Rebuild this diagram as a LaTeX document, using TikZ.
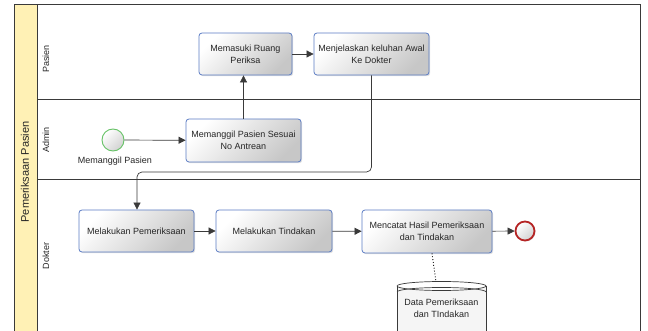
\documentclass[tikz,border=0pt]{standalone}
\usepackage{fontspec}
\setmainfont{Liberation Sans}
\usetikzlibrary{arrows.meta,shadows,calc}

\definecolor{taskblue}{HTML}{5B7CC4}
\definecolor{poolyellow}{HTML}{FFF1B5}
\definecolor{txtgray}{HTML}{262626}
\definecolor{linegray}{HTML}{3A3A3A}
\definecolor{startgreen}{HTML}{66C266}
\definecolor{endred}{HTML}{B52424}

\tikzset{
  x=1pt, y=-1pt,
  every node/.style={font=\fontsize{9}{12}\selectfont, text=txtgray},
  task/.style={draw=taskblue, line width=0.8pt, rounded corners=3pt,
    top color=white, bottom color=black!22, shading angle=45,
    drop shadow={shadow xshift=1.2pt, shadow yshift=-1.2pt, opacity=0.25},
    align=center, inner sep=2pt},
  flow/.style={draw=linegray, line width=0.7pt,
    -{Triangle[length=7pt,width=7pt]}},
  lanelabel/.style={rotate=90, anchor=center},
  startev/.style={circle, draw=startgreen, line width=0.9pt,
    top color=white, bottom color=black!18, shading angle=45,
    minimum size=22pt, inner sep=0pt},
  endev/.style={circle, draw=endred, line width=1.8pt,
    top color=white, bottom color=black!18, shading angle=45,
    drop shadow={shadow xshift=1pt, shadow yshift=-1pt, opacity=0.25},
    minimum size=19pt, inner sep=0pt},
  storeline/.style={draw=linegray, line width=0.7pt},
}

\begin{document}
\begin{tikzpicture}
\useasboundingbox (0,0) rectangle (648,331);
\clip (0,0) rectangle (648,331);

% pool and lanes
\fill[poolyellow] (14,5) rectangle (37,340);
\draw[linegray, line width=1pt] (14,340) -- (14,5) -- (640,5) -- (640,340);
\draw[linegray, line width=1pt] (37,5) -- (37,340);
\draw[linegray, line width=1pt] (37,100) -- (640,100);
\draw[linegray, line width=1pt] (37,180) -- (640,180);

\node[lanelabel, font=\fontsize{11}{13}\selectfont] (pool) at (25,172) {Pemeriksaan Pasien};
\node[lanelabel] (lpasien) at (46,59) {Pasien};
\node[lanelabel] (ladmin) at (46,140) {Admin};
\node[lanelabel] (ldokter) at (46,256) {Dokter};

% tasks
\node[task, minimum width=93pt, minimum height=42pt] (masuk) at (245.5,54) {Memasuki Ruang\\Periksa};
\node[task, minimum width=115pt, minimum height=42pt] (jelas) at (371.5,54) {Menjelaskan keluhan Awal\\Ke Dokter};
\node[task, minimum width=115pt, minimum height=43pt] (panggil) at (243.5,140.5) {Memanggil Pasien Sesuai\\No Antrean};
\node[task, minimum width=115pt, minimum height=42pt] (periksa) at (136.5,231) {Melakukan Pemeriksaan};
\node[task, minimum width=116pt, minimum height=42pt] (tindak) at (274,231) {Melakukan Tindakan};
\node[task, minimum width=130pt, minimum height=43pt] (catat) at (427,231.5) {Mencatat Hasil Pemeriksaan\\dan Tindakan};

% events
\node[startev] (start) at (113,140) {};
\node (startlbl) at (115,161) {Memanggil Pasien};
\node[endev] (stop) at (525,231) {};

% data store: cylinder with a double rim
\coordinate (dstop) at (436,282);
\fill[black!4] (397,286) rectangle (486,340);
\fill[white] (441.5,286) ellipse [x radius=44.5, y radius=4.5];
\draw[storeline] (397,340) -- (397,286);
\draw[storeline] (486,340) -- (486,286);
\draw[storeline] (441.5,286) ellipse [x radius=44.5, y radius=4.5];
\draw[storeline] (397,292) arc [start angle=180, end angle=0, x radius=44.5, y radius=-4.5];
\node[align=center] (store) at (441.5,308.5) {Data Pemeriksaan\\dan TIndakan};

% flows
\draw[flow] (start) -- (panggil);
\draw[flow] (panggil.north) -- (panggil.north |- masuk.south);
\draw[flow] (masuk) -- (jelas);
\coordinate (bend) at (137,172);
\draw[flow, rounded corners=5pt] (jelas.south) |- (bend) -- (bend |- periksa.north);
\draw[flow] (periksa) -- (tindak);
\draw[flow] (tindak) -- (catat);
\draw[flow] (catat) -- (stop);
\draw[black, line width=0.9pt, dotted] ($(catat.south)+(5,0)$) -- (dstop);
\end{tikzpicture}
\end{document}
